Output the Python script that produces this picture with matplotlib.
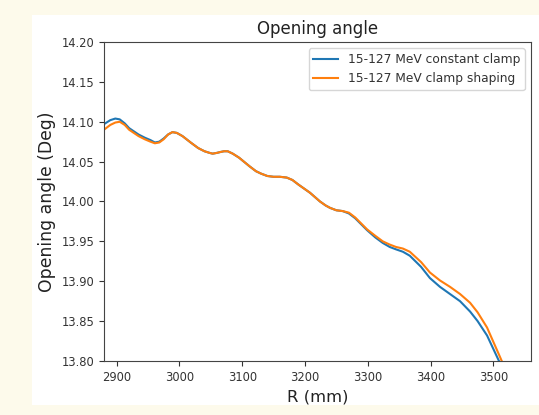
import numpy as np
import matplotlib
matplotlib.use("Agg")
import matplotlib.pyplot as plt
from matplotlib.patches import Rectangle

# R (mm) sample positions
r_mm = [2880, 2890, 2898, 2905, 2913, 2920, 2935, 2945, 2954, 2961, 2968, 2975,
        2982, 2989, 2996, 3005, 3018, 3030, 3040, 3048, 3053, 3060, 3065,
        3071, 3077, 3085, 3095, 3112, 3122, 3130, 3140, 3150, 3160, 3171,
        3180, 3190, 3208, 3224, 3233, 3240, 3250, 3260, 3270, 3280, 3299,
        3312, 3324, 3335, 3345, 3356, 3367, 3385, 3399, 3415, 3431, 3447,
        3463, 3475, 3490, 3509, 3530, 3560]

# opening angle (deg), constant clamp
angle_const = [14.097, 14.102, 14.104, 14.103, 14.098, 14.092, 14.084, 14.080,
               14.077, 14.074, 14.075, 14.079, 14.084, 14.087, 14.086, 14.082,
               14.074, 14.067, 14.063, 14.061, 14.060, 14.061, 14.062, 14.063,
               14.063, 14.060, 14.055, 14.044, 14.038, 14.035, 14.032, 14.031,
               14.031, 14.030, 14.027, 14.021, 14.011, 14.000, 13.995, 13.992,
               13.989, 13.988, 13.985, 13.979, 13.964, 13.955, 13.948, 13.943,
               13.940, 13.937, 13.932, 13.918, 13.904, 13.893, 13.884, 13.875,
               13.862, 13.850, 13.832, 13.800, 13.765, 13.715]

# opening angle (deg), clamp shaping
angle_shape = [14.090, 14.096, 14.099, 14.100, 14.096, 14.090, 14.082, 14.078,
               14.075, 14.073, 14.074, 14.078, 14.084, 14.087, 14.086, 14.082,
               14.074, 14.067, 14.063, 14.061, 14.060, 14.061, 14.062, 14.063,
               14.063, 14.060, 14.055, 14.044, 14.038, 14.035, 14.032, 14.031,
               14.031, 14.030, 14.027, 14.021, 14.011, 14.000, 13.995, 13.992,
               13.989, 13.988, 13.986, 13.980, 13.965, 13.957, 13.950, 13.946,
               13.943, 13.941, 13.937, 13.924, 13.911, 13.901, 13.893, 13.884,
               13.873, 13.861, 13.842, 13.808, 13.770, 13.720]

fig = plt.figure(figsize=(5.39, 4.15), dpi=100)
fig.patch.set_facecolor("#fdfaeb")
# white panel behind the plot
bg = Rectangle((32 / 539, 1 - 405 / 415), 507 / 539, 390 / 415,
               transform=fig.transFigure, facecolor="white",
               edgecolor="none", zorder=-10)
fig.patches.append(bg)

ax = fig.add_axes([104 / 539, 1 - 361 / 415, 427 / 539, 319 / 415])
ax.set_zorder(5)
ax.plot(r_mm, angle_const, color="#1f77b4", lw=1.5, label="15-127 MeV constant clamp")
ax.plot(r_mm, angle_shape, color="#ff7f0e", lw=1.5, label="15-127 MeV clamp shaping")

ax.set_xlim(2880, 3560)
ax.set_ylim(13.80, 14.20)
ax.set_yticks(np.arange(13.80, 14.201, 0.05))
ax.tick_params(labelsize=8.3, colors="#333333")
for s in ax.spines.values():
    s.set_color("#444444")
ax.set_xlabel("R (mm)", fontsize=11.8, color="#222222")
ax.set_ylabel("Opening angle (Deg)", fontsize=12.4, color="#222222")
ax.set_title("Opening angle", fontsize=12, color="#222222")
ax.legend(loc="upper right", fontsize=8.8, labelcolor="#333333")

fig.savefig("out.png", dpi=100, facecolor=fig.get_facecolor())
